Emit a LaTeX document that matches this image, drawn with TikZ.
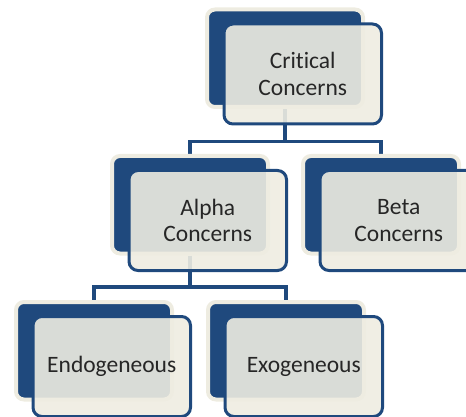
\documentclass[tikz,border=0pt]{standalone}
\usepackage{fontspec}
\setmainfont[Ligatures=NoCommon]{Carlito}
\definecolor{sblue}{HTML}{1F497D}
\definecolor{sbeige}{HTML}{EEECE1}
\definecolor{stext}{HTML}{262626}
\begin{document}
\begin{tikzpicture}[x=1pt,y=-1pt,
  backbox/.style={rectangle, rounded corners=8pt, fill=sblue, draw=sbeige, line width=4pt,
    minimum width=156pt, minimum height=97.5pt, inner sep=0pt},
  frontbox/.style={rectangle, rounded corners=9pt, fill=sbeige, fill opacity=0.9, text opacity=1,
    draw=sblue, line width=3pt, minimum width=157.5pt, minimum height=100pt, inner sep=0pt,
    align=center, text=stext, font=\fontsize{23.5}{26.7}\selectfont},
  conn/.style={draw=sblue, line width=3.4pt}]
\useasboundingbox (0,0) rectangle (466,417);
\clip (0,0) rectangle (466,417);
% back boxes (centers = bx+76, by+46.75)
\coordinate (cB) at (285,58.25);
\coordinate (aB) at (190,204.75);
\coordinate (bB) at (381,204.75);
\coordinate (eB) at (94,350.75);
\coordinate (xB) at (286,350.75);
% connectors (drawn first, behind boxes)
\node[backbox, draw=none, fill=none] (critB) at (cB) {};
\node[backbox, draw=none, fill=none] (alphaB) at (aB) {};
\node[backbox, draw=none, fill=none] (betaB) at (bB) {};
\node[backbox, draw=none, fill=none] (endoB) at (eB) {};
\node[backbox, draw=none, fill=none] (exoB) at (xB) {};
\draw[conn] (critB.south) -- ++(0,32.5) -| (alphaB.north);
\draw[conn] (critB.south) -- ++(0,32.5) -| (betaB.north);
\draw[conn] (alphaB.south) -- ++(0,31.5) -| (endoB.north);
\draw[conn] (alphaB.south) -- ++(0,31.5) -| (exoB.north);
% visible back boxes
\node[backbox] (critBk) at (cB) {};
\node[backbox] (alphaBk) at (aB) {};
\node[backbox] (betaBk) at (bB) {};
\node[backbox] (endoBk) at (eB) {};
\node[backbox] (exoBk) at (xB) {};
% front boxes (centers = bx+93.75, by+62.5)
\node[frontbox] (crit) at (302.75,74) {Critical\\Concerns};
\node[frontbox] (alpha) at (207.75,220.5) {Alpha\\Concerns};
\node[frontbox] (beta) at (398.75,220.5) {Beta\\Concerns};
\node[frontbox] (endo) at (111.75,366.5) {Endogeneous};
\node[frontbox] (exo) at (303.75,366.5) {Exogeneous};
\end{tikzpicture}
\end{document}
